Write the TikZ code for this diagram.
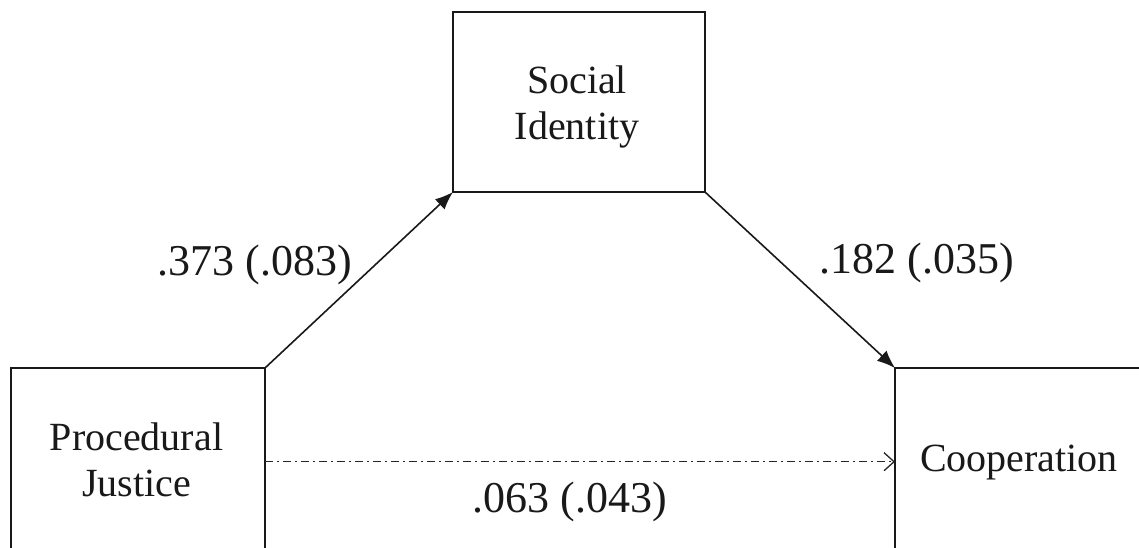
\documentclass[tikz,border=0pt]{standalone}
\usepackage{fontspec}
\setmainfont{Liberation Serif}
\usetikzlibrary{arrows.meta}
\begin{document}
\begin{tikzpicture}[x=1pt,y=-1pt,
  box/.style={draw=black!90, line width=2pt, inner sep=0pt, outer sep=0pt, rectangle},
  boxtext/.style={align=center, font=\fontsize{40}{46}\selectfont, text=black!90},
  coef/.style={anchor=base, font=\fontsize{44}{50}\selectfont, text=black!90, inner sep=0pt},
  path/.style={draw=black!90, line width=1.6pt, -{Latex[length=18pt,width=14pt]}},
  direct/.style={draw=black!85, line width=1.3pt, dash pattern=on 8pt off 4pt on 2pt off 4pt,
    -{Straight Barb[length=10pt,width=18pt,line width=1.3pt]}}]
\useasboundingbox (0,0) rectangle (1139,547);
\clip (0,0) rectangle (1139,547);
\fill[white] (0,0) rectangle (1139,547);
% boxes
\node[box, minimum width=252pt, minimum height=180pt] (si) at (579,102) {};
\node[box, minimum width=254pt, minimum height=184pt] (pj) at (138,460) {};
\node[box, minimum width=248pt, minimum height=184pt] (co) at (1019,460) {};
% box texts
\node[boxtext] (sitext) at (577,106.7) {Social\\Identity};
\node[boxtext] (pjtext) at (136.5,460) {Procedural\\Justice};
\node[boxtext] (cotext) at (1019,462.7) {Cooperation};
% connectors
\draw[path] (pj.north east) -- (si.south west);
\draw[path] (si.south east) -- (co.north west);
\draw[direct] ([yshift=-1.7pt]pj.east) -- ([yshift=-1.7pt]co.west);
% coefficients
\node[coef] (a) at (254.5,275) {.373 (.083)};
\node[coef] (b) at (917,273) {.182 (.035)};
\node[coef] (c) at (570,512) {.063 (.043)};
\end{tikzpicture}
\end{document}
